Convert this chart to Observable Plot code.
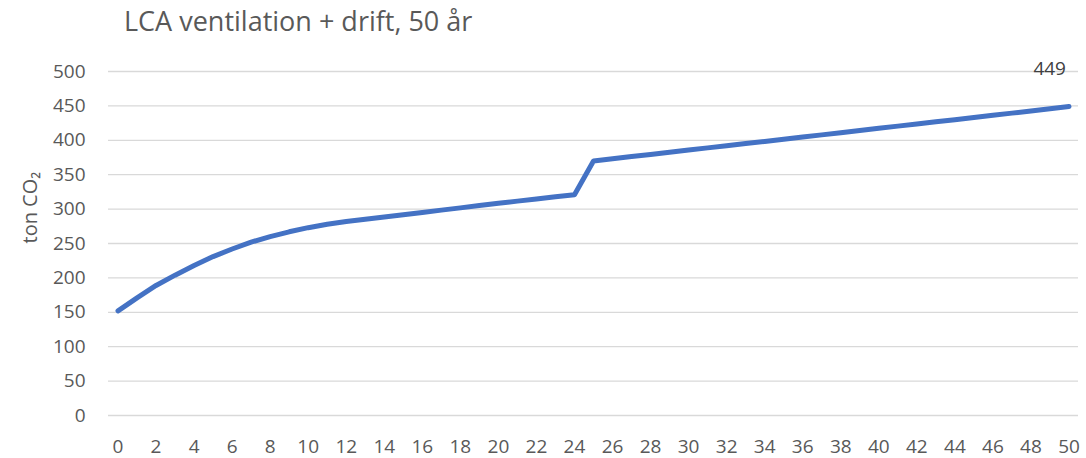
<!DOCTYPE html>
<html>
<head>
<meta charset="utf-8">
<script src="https://cdn.jsdelivr.net/npm/d3@7"></script>
<script src="https://cdn.jsdelivr.net/npm/@observablehq/plot@0.6"></script>
<style>
  html, body { margin: 0; padding: 0; background: #fff; }
  #wrap { position: relative; width: 1086px; height: 458px; overflow: hidden; }
  #title { position: absolute; left: 124px; top: 2px; font-family: "Open Sans", sans-serif; font-size: 27px; color: #595959; white-space: nowrap; }
  #chart { position: absolute; left: 0; top: 0; }
</style>
</head>
<body>
<div id="wrap">
  <div id="chart"></div>
  <div id="title">LCA ventilation + drift, 50 år</div>
</div>
<script>
const years = d3.range(0, 51);
const values = [152, 171, 189, 204, 218, 231, 242, 252, 260, 267,
  273, 278, 282, 285.3, 288.6, 291.9, 295.2, 298.5, 301.8, 305.1,
  308.4, 311.6, 314.8, 318, 321, 370, 373.2, 376.3, 379.5, 382.6,
  385.8, 389, 392.1, 395.3, 398.4, 401.6, 404.8, 407.9, 411.1, 414.2,
  417.4, 420.6, 423.7, 426.9, 430, 433.2, 436.4, 439.5, 442.7, 445.8, 449];
const yTicks = [0, 50, 100, 150, 200, 250, 300, 350, 400, 450, 500];
const xTicks = d3.range(0, 51, 2);
const yLabel = "ton CO₂";
const endLabel = "449";

const data = years.map((y, i) => ({year: y, value: values[i]}));

const plot = Plot.plot({
  width: 1086,
  height: 458,
  marginTop: 71,
  marginBottom: 43,
  marginLeft: 108,
  marginRight: 8,
  style: {fontFamily: "'Open Sans', sans-serif", fontSize: "19px", color: "#595959", background: "#fff"},
  x: {domain: [-0.5, 50.5], label: null},
  y: {domain: [0, 500], label: null},
  marks: [
    Plot.ruleY(yTicks, {stroke: "#d9d9d9", strokeWidth: 1.3}),
    Plot.line(data, {x: "year", y: "value", stroke: "#4472C4", strokeWidth: 5, strokeLinecap: "round", strokeLinejoin: "round"}),
    Plot.text([data[data.length - 1]], {x: "year", y: "value", text: () => endLabel, textAnchor: "end", dx: -3, dy: -38, fill: "#404040", fontSize: 19}),
    Plot.text([yLabel], {frameAnchor: "left", dx: -78, rotate: -90, fill: "#595959", fontSize: 20}),
    Plot.axisX({ticks: xTicks, tickSize: 0, tickPadding: 24, tickFormat: d => String(d), label: null}),
    Plot.axisY({ticks: yTicks, tickSize: 0, tickPadding: 23, label: null})
  ]
});
document.getElementById("chart").appendChild(plot);
</script>
</body>
</html>
